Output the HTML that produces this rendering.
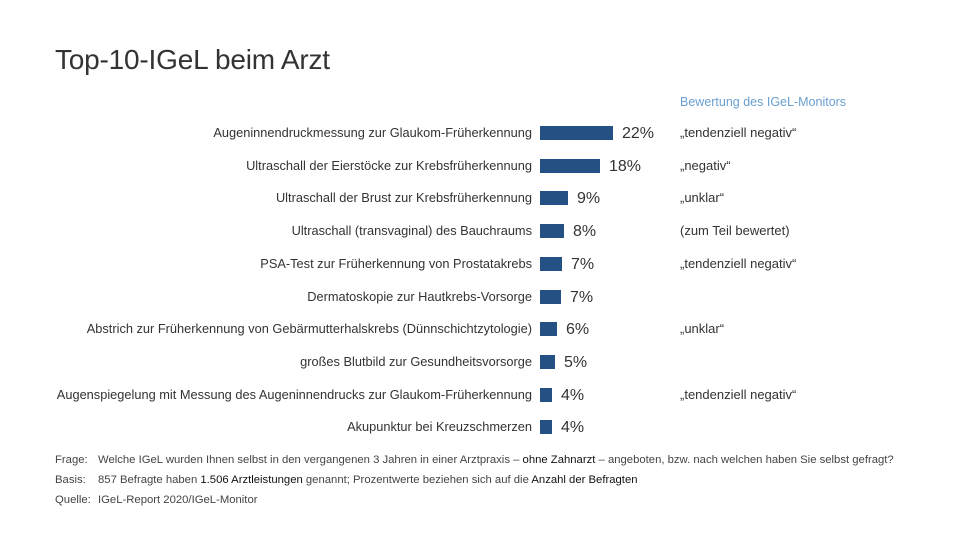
<!DOCTYPE html>
<html><head><meta charset="utf-8"><style>
body{margin:0;width:960px;height:540px;background:#fff;font-family:"Liberation Sans",sans-serif;position:relative;overflow:hidden;color:#333}
.t{position:absolute;left:55px;top:44px;font-size:28px;color:#333;letter-spacing:-0.2px}
.h{position:absolute;left:680px;top:95px;font-size:12.5px;color:#6a9fd0}
.l{position:absolute;right:428px;font-size:12.8px;white-space:nowrap;color:#333}
.b{position:absolute;left:540px;height:14px;background:#245084}
.p{position:absolute;font-size:16px;color:#333}
.r{position:absolute;left:680px;font-size:13px;color:#333}
.f{position:absolute;left:55px;font-size:11.3px;color:#444;white-space:nowrap}
.f span{display:inline-block;width:43px}
.f b{font-weight:normal;color:#111}
</style></head><body>
<div class="t">Top-10-IGeL beim Arzt</div>
<div class="h">Bewertung des IGeL-Monitors</div>
<div id="c"></div>
<script>
var d=[["Augeninnendruckmessung zur Glaukom-Früherkennung",22,"„tendenziell negativ“"],
["Ultraschall der Eierstöcke zur Krebsfrüherkennung",18,"„negativ“"],
["Ultraschall der Brust zur Krebsfrüherkennung",9,"„unklar“"],
["Ultraschall (transvaginal) des Bauchraums",8,"(zum Teil bewertet)"],
["PSA-Test zur Früherkennung von Prostatakrebs",7,"„tendenziell negativ“"],
["Dermatoskopie zur Hautkrebs-Vorsorge",7,""],
["Abstrich zur Früherkennung von Gebärmutterhalskrebs (Dünnschichtzytologie)",6,"„unklar“"],
["großes Blutbild zur Gesundheitsvorsorge",5,""],
["Augenspiegelung mit Messung des Augeninnendrucks zur Glaukom-Früherkennung",4,"„tendenziell negativ“"],
["Akupunktur bei Kreuzschmerzen",4,""]];
var w=[73,60,28,24,22,21,17,15,12,12],h="";
d.forEach(function(e,i){var y=133+i*32.7;
h+='<div class="l" style="top:'+(y-8)+'px">'+e[0]+'</div>';
h+='<div class="b" style="top:'+(y-7)+'px;width:'+w[i]+'px"></div>';
h+='<div class="p" style="top:'+(y-8)+'px;left:'+(540+w[i]+9)+'px">'+e[1]+'%</div>';
if(e[2])h+='<div class="r" style="top:'+(y-8)+'px">'+e[2]+'</div>';});
document.getElementById('c').innerHTML=h;
</script>
<div class="f" style="top:454px"><span>Frage:</span>Welche IGeL wurden Ihnen selbst in den vergangenen 3 Jahren in einer Arztpraxis – <b>ohne Zahnarzt</b> – angeboten, bzw. nach welchen haben Sie selbst gefragt?</div>
<div class="f" style="top:474px"><span>Basis:</span>857 Befragte haben <b>1.506 Arztleistungen</b> genannt; Prozentwerte beziehen sich auf die <b>Anzahl der Befragten</b></div>
<div class="f" style="top:494px"><span>Quelle:</span>IGeL-Report 2020/IGeL-Monitor</div>
</body></html>
